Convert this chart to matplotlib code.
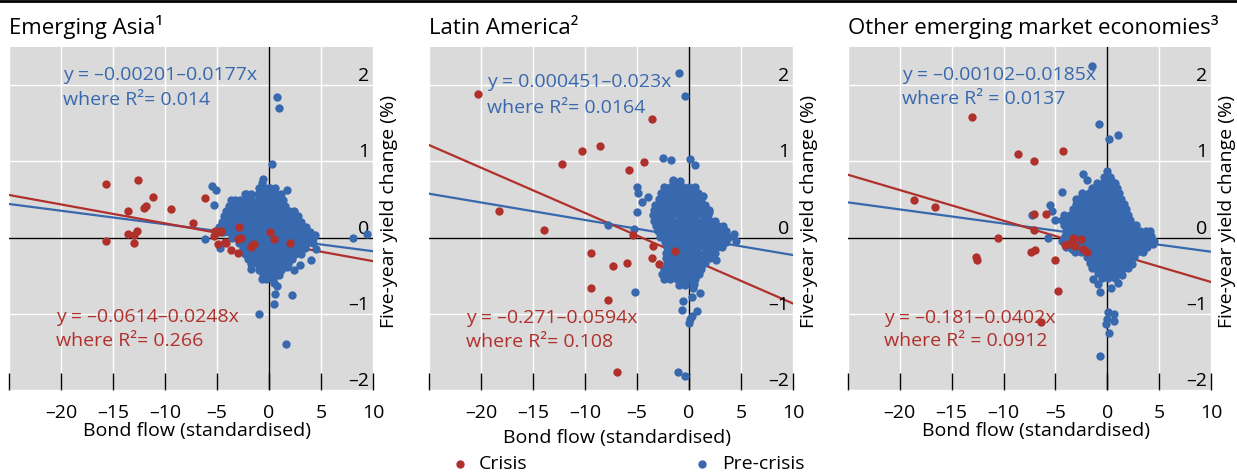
import numpy as np
import matplotlib
matplotlib.use("Agg")
import matplotlib.pyplot as plt
import matplotlib.transforms as mtransforms
from matplotlib.lines import Line2D

plt.rcParams['font.family'] = ['Open Sans', 'DejaVu Sans']

RED = '#b0302c'
BLUE = '#3868ae'
BG = '#dadada'

titles = ['Emerging Asia¹', 'Latin America²', 'Other emerging market economies³']

# regression lines (intercept, slope) as printed on the chart
pre_coef = [(-0.00201, -0.0177), (0.000451, -0.023), (-0.00102, -0.0185)]
crisis_coef = [(-0.0614, -0.0248), (-0.271, -0.0594), (-0.181, -0.0402)]
pre_text = [('y = –0.00201–0.0177x', 'where R²= 0.014'),
            ('y = 0.000451–0.023x', 'where R²= 0.0164'),
            ('y = –0.00102–0.0185x', 'where R² = 0.0137')]
crisis_text = [('y = –0.0614–0.0248x', 'where R²= 0.266'),
               ('y = –0.271–0.0594x', 'where R²= 0.108'),
               ('y = –0.181–0.0402x', 'where R² = 0.0912')]

# --- Emerging Asia ---
asia_crisis_x = [-15.7, -12.6, -11.2, -11.8, -12.0, -13.6, -9.4, -6.2, -7.3, -2.9, -13.6, -12.7,
                 -13.0, -4.6, -15.7, -13.0, -4.9, -4.1, -3.7, -3.0, -3.0, -1.4, 0.5, 2.0, -5.3,
                 -5.2, -4.7, -4.2, -2.7, -1.6, -1.7, 0.1]
asia_crisis_y = [0.70, 0.76, 0.53, 0.41, 0.39, 0.35, 0.37, 0.52, 0.19, 0.14, 0.05, 0.08,
                 0.04, 0.09, -0.05, -0.07, -0.09, -0.07, -0.16, -0.20, -0.02, -0.09, -0.02, -0.07, 0.02,
                 0.09, 0.07, -0.06, -0.01, -0.10, -0.12, 0.07]
asia_pre_x = [0.77, 1.0, 0.3, -0.6, -5.5, -5.1, -5.3, -3.7, -2.2, 1.7, 2.4, 8.1, 9.4, -6.2, -4.7,
              4.4, 4.5, 4.0, 3.0, 2.4, 1.7, -1.7, -0.7, 0.5, 0.8, 0.6, 2.2, 0.5, -1.0, 1.6, 0.0, 0.6, 1.1]
asia_pre_y = [1.85, 1.70, 0.96, 0.77, 0.67, 0.62, 0.43, 0.49, 0.57, 0.62, 0.33, -0.01, 0.05, -0.02, -0.14,
              0.03, -0.15, -0.29, -0.36, -0.43, -0.39, -0.41, -0.54, -0.59, -0.63, -0.74, -0.76, -0.87, -1.0, -1.40,
              0.65, 0.56, 0.46]
# dense core of the pre-crisis cloud, row by row: (y, [x, ...])
asia_pre_core = [
    (0.72, [-0.7]),
    (0.65, [-1.0, -0.4, 0.1, 0.6]),
    (0.57, [-2.3, -1.7, -1.1, -0.5, 0.1, 0.7, 1.2]),
    (0.49, [-3.3, -2.8, -2.2, -1.6, -1.0, -0.4, 0.2, 0.8, 1.3]),
    (0.42, [-3.8, -3.2, -2.6, -2.0, -1.4, -0.8, -0.2, 0.4, 1.0, 1.5]),
    (0.35, [-4.1, -3.5, -2.9, -2.3, -1.7, -1.1, -0.5, 0.1, 0.7, 1.3, 1.9, 2.4]),
    (0.28, [-4.3, -3.7, -3.1, -2.5, -1.9, -1.3, -0.7, -0.1, 0.5, 1.1, 1.7, 2.3, 2.8]),
    (0.21, [-4.5, -3.9, -3.3, -2.7, -2.1, -1.5, -0.9, -0.3, 0.3, 0.9, 1.5, 2.1, 2.7, 3.1]),
    (0.14, [-4.8, -4.2, -3.6, -3.0, -2.4, -1.8, -1.2, -0.6, 0.0, 0.6, 1.2, 1.8, 2.4, 3.0, 3.6]),
    (0.07, [-4.4, -3.8, -3.2, -2.6, -2.0, -1.4, -0.8, -0.2, 0.4, 1.0, 1.6, 2.2, 2.8, 3.4, 3.9]),
    (0.00, [-3.6, -3.0, -2.4, -1.8, -1.2, -0.6, 0.0, 0.6, 1.2, 1.8, 2.4, 3.0, 3.6, 4.2]),
    (-0.07, [-2.9, -2.3, -1.7, -1.1, -0.5, 0.1, 0.7, 1.3, 1.9, 2.5, 3.1, 3.7, 4.2]),
    (-0.14, [-2.5, -1.9, -1.3, -0.7, -0.1, 0.5, 1.1, 1.7, 2.3, 2.9, 3.5]),
    (-0.21, [-2.3, -1.7, -1.1, -0.5, 0.1, 0.7, 1.3, 1.9, 2.5, 3.1]),
    (-0.28, [-2.0, -1.4, -0.8, -0.2, 0.4, 1.0, 1.6, 2.2]),
    (-0.35, [-1.7, -1.1, -0.5, 0.1, 0.7, 1.3, 1.8]),
    (-0.42, [-1.0, -0.4, 0.2, 0.8, 1.2]),
    (-0.49, [-0.6, 0.0, 0.6, 1.0]),
    (-0.55, [-0.3, 0.4]),
]

# --- Latin America ---
latam_crisis_x = [-20.25, -3.6, -8.6, -10.3, -12.2, -4.3, -5.75, -18.25, -13.9, -5.4, -3.5, -9.4,
                  -3.6, -2.9, -6.0, -7.3, -1.35, -9.4, -7.8, -6.9]
latam_crisis_y = [1.88, 1.56, 1.20, 1.13, 0.97, 0.99, 0.89, 0.35, 0.10, 0.03, -0.11, -0.20,
                  -0.27, -0.35, -0.34, -0.37, -0.17, -0.66, -0.82, -1.77]
latam_pre_x = [-1.0, -0.4, -2.5, -1.7, 0.1, 0.6, -1.5, -5.0, -4.9, -3.9, -4.5, -5.0, -7.8, -5.3, 1.3, 1.9,
               4.3, 4.5, 2.6, -5.2, -0.6, -0.7, 0.3, 1.06, 0.74, 0.42, 0.3, 0.1, 0.0, -1.1, -0.4, 0.5]
latam_pre_y = [2.16, 1.86, 1.04, 1.02, 1.03, 0.95, 0.76, 0.66, 0.58, 0.53, 0.46, 0.34, 0.16, 0.11, 0.54, 0.34,
               0.05, -0.04, -0.29, -0.72, -0.83, -0.95, -0.78, -0.73, -0.96, -0.66, -1.03, -1.07, -1.12, -1.77, -1.81, -0.61]
latam_pre_core = [
    (0.74, [-1.5, -0.9]),
    (0.66, [-2.4, -1.8, -1.2, -0.6, 0.0, 0.6]),
    (0.58, [-2.7, -2.1, -1.5, -0.9, -0.3, 0.3, 0.9]),
    (0.50, [-2.9, -2.3, -1.7, -1.1, -0.5, 0.1, 0.7, 1.2]),
    (0.43, [-3.3, -2.7, -2.1, -1.5, -0.9, -0.3, 0.3, 0.9, 1.5]),
    (0.36, [-3.4, -2.8, -2.2, -1.6, -1.0, -0.4, 0.2, 0.8, 1.4, 1.9]),
    (0.29, [-3.5, -2.9, -2.3, -1.7, -1.1, -0.5, 0.1, 0.7, 1.3, 1.8]),
    (0.22, [-3.4, -2.8, -2.2, -1.6, -1.0, -0.4, 0.2, 0.8, 1.4, 2.0, 2.5]),
    (0.15, [-3.2, -2.6, -2.0, -1.4, -0.8, -0.2, 0.4, 1.0, 1.6, 2.2, 2.8, 3.3]),
    (0.08, [-3.0, -2.4, -1.8, -1.2, -0.6, 0.0, 0.6, 1.2, 1.8, 2.4, 3.0, 3.6]),
    (0.01, [-2.8, -2.2, -1.6, -1.0, -0.4, 0.2, 0.8, 1.4, 2.0, 2.6, 3.2, 3.8]),
    (-0.06, [-2.3, -1.7, -1.1, -0.5, 0.1, 0.7, 1.3, 1.9, 2.5, 3.1, 3.6]),
    (-0.13, [-2.1, -1.5, -0.9, -0.3, 0.3, 0.9, 1.5, 2.1, 2.7, 3.2]),
    (-0.20, [-2.2, -1.6, -1.0, -0.4, 0.2, 0.8, 1.4, 2.0, 2.5]),
    (-0.27, [-2.2, -1.6, -1.0, -0.4, 0.2, 0.8, 1.4, 2.0]),
    (-0.34, [-2.1, -1.5, -0.9, -0.3, 0.3, 0.9, 1.5]),
    (-0.41, [-2.4, -1.8, -1.2, -0.6, 0.0, 0.6, 1.2]),
    (-0.48, [-2.6, -2.0, -1.4, -0.8, -0.2, 0.4, 1.0]),
    (-0.55, [-2.4, -1.8, -1.2, -0.6, 0.0, 0.6]),
    (-0.62, [-1.0, -0.4, 0.4]),
]

# --- Other emerging market economies ---
other_crisis_x = [-13.0, -8.6, -7.05, -4.3, -18.6, -16.6, -7.1, -5.9, -7.1, -10.5, -12.7, -12.6,
                  -7.4, -6.95, -5.0, -4.8, -6.4, -3.3, -4.1, -3.4, -2.3, -2.0, -2.5, -3.1, -3.75]
other_crisis_y = [1.58, 1.10, 1.0, 1.13, 0.49, 0.40, 0.31, 0.31, 0.10, 0.0, -0.26, -0.30,
                  -0.19, -0.16, -0.30, -0.70, -1.11, 0.0, -0.10, -0.09, -0.15, -0.19, -0.02, -0.11, -0.09]
other_pre_x = [-1.5, -0.8, 0.16, 1.0, -0.06, -2.3, -2.0, 0.4, -4.4, -5.5, -5.3, -3.0, -7.3, -5.0, -1.35,
               4.1, 4.4, -5.7, -3.4, 2.35, -1.4, -0.87, -0.7, 0.4, 1.06, 1.44, 0.1, -0.06, 0.64, 0.67,
               -0.12, 0.16, -0.7]
other_pre_y = [2.25, 1.49, 1.29, 1.35, 0.87, 0.83, 0.76, 0.76, 0.60, 0.43, 0.35, 0.50, 0.29, 0.23, 0.52,
               0.08, -0.09, -0.01, -0.15, -0.35, -0.54, -0.61, -0.72, -0.66, -0.59, -0.49, -0.98, -1.07, -1.0, -1.10,
               -1.14, -1.25, -1.55]
other_pre_core = [
    (0.80, [-0.3, 0.3]),
    (0.72, [-1.0, -0.4, 0.2, 0.7]),
    (0.65, [-1.5, -0.9, -0.3, 0.3, 0.9]),
    (0.58, [-2.4, -1.8, -1.2, -0.6, 0.0, 0.6, 1.1]),
    (0.51, [-2.7, -2.1, -1.5, -0.9, -0.3, 0.3, 0.9, 1.3]),
    (0.44, [-3.0, -2.4, -1.8, -1.2, -0.6, 0.0, 0.6, 1.2, 1.6]),
    (0.37, [-3.3, -2.7, -2.1, -1.5, -0.9, -0.3, 0.3, 0.9, 1.5, 1.8]),
    (0.30, [-4.2, -3.6, -3.0, -2.4, -1.8, -1.2, -0.6, 0.0, 0.6, 1.2, 1.8, 2.0]),
    (0.23, [-4.4, -3.8, -3.2, -2.6, -2.0, -1.4, -0.8, -0.2, 0.4, 1.0, 1.6, 2.2]),
    (0.16, [-4.2, -3.6, -3.0, -2.4, -1.8, -1.2, -0.6, 0.0, 0.6, 1.2, 1.8, 2.4, 2.8]),
    (0.09, [-4.0, -3.4, -2.8, -2.2, -1.6, -1.0, -0.4, 0.2, 0.8, 1.4, 2.0, 2.6, 3.2, 3.7]),
    (0.02, [-4.1, -3.5, -2.9, -2.3, -1.7, -1.1, -0.5, 0.1, 0.7, 1.3, 1.9, 2.5, 3.1, 3.7, 4.2]),
    (-0.05, [-4.4, -3.8, -3.2, -2.6, -2.0, -1.4, -0.8, -0.2, 0.4, 1.0, 1.6, 2.2, 2.8, 3.4, 4.0, 4.5]),
    (-0.12, [-4.0, -3.4, -2.8, -2.2, -1.6, -1.0, -0.4, 0.2, 0.8, 1.4, 2.0, 2.6, 3.2, 3.8]),
    (-0.19, [-3.1, -2.5, -1.9, -1.3, -0.7, -0.1, 0.5, 1.1, 1.7, 2.3, 2.9, 3.4]),
    (-0.26, [-2.0, -1.4, -0.8, -0.2, 0.4, 1.0, 1.6, 2.2, 2.6]),
    (-0.33, [-1.7, -1.1, -0.5, 0.1, 0.7, 1.3, 1.9]),
    (-0.40, [-1.5, -0.9, -0.3, 0.3, 0.9, 1.5, 2.0]),
    (-0.47, [-0.9, -0.3, 0.3, 0.9, 1.3]),
    (-0.53, [-0.5, 0.1, 0.7]),
]

x_ticks = [-25, -20, -15, -10, -5, 0, 5, 10]
x_tick_labels = ['', '–20', '–15', '–10', '–5', '0', '5', '10']
y_ticks = [-2, -1, 0, 1, 2]
y_tick_labels = ['–2', '–1', '0', '1', '2']
legend_labels = ['Crisis', 'Pre-crisis']

crisis_x = [asia_crisis_x, latam_crisis_x, other_crisis_x]
crisis_y = [asia_crisis_y, latam_crisis_y, other_crisis_y]
pre_x = [asia_pre_x, latam_pre_x, other_pre_x]
pre_y = [asia_pre_y, latam_pre_y, other_pre_y]
pre_core = [asia_pre_core, latam_pre_core, other_pre_core]


def flatten_core(core):
    xs, ys = [], []
    for yv, row in core:
        xs += row
        ys += [yv] * len(row)
    return xs, ys


W, H = 1237, 473
fig = plt.figure(figsize=(W / 100, H / 100), dpi=100)

# axes boxes in pixels: left, right (top 47, bottom 390)
boxes = [(9, 373), (429, 793), (848, 1211)]
top_px, bot_px = 47, 390
# text anchor positions in pixels
blue_txt = [(63, 75, 100), (487, 82, 108), (902, 75, 99)]
red_txt = [(56, 317, 341), (466, 318, 342), (884, 318, 341)]
xlabel_pos = [(197, 431), (617, 438), (1036, 431)]

fs = 14
for i in range(3):
    l, r = boxes[i]
    ax = fig.add_axes([l / W, 1 - bot_px / H, (r - l) / W, (bot_px - top_px) / H])
    ax.set_facecolor(BG)
    for s in ax.spines.values():
        s.set_visible(False)
    ax.set_xlim(-25, 10)
    ax.set_ylim(-2, 2.5)
    ax.set_xticks(x_ticks, x_tick_labels)
    ax.set_yticks(y_ticks)
    ax.tick_params(axis='x', direction='in', length=12, width=1, pad=10, labelsize=fs)
    ax.tick_params(axis='y', left=False, right=False, labelleft=False)
    ax.grid(color='white', lw=1)
    ax.set_axisbelow(True)
    ax.axhline(0, color='black', lw=1, zorder=1.5)
    ax.axvline(0, color='black', lw=1, zorder=1.5)

    # right-hand tick labels inside the plot area
    trans = mtransforms.blended_transform_factory(ax.transAxes, ax.transData)
    for v, lab in zip(y_ticks, y_tick_labels):
        ax.text(0.99, v, lab, transform=trans, ha='right', va='bottom', fontsize=fs)

    xl = np.array([-25, 10])
    a, b = pre_coef[i]
    ax.plot(xl, a + b * xl, color=BLUE, lw=1.6, zorder=2)
    a, b = crisis_coef[i]
    ax.plot(xl, a + b * xl, color=RED, lw=1.6, zorder=2)

    cx, cy = flatten_core(pre_core[i])
    ax.scatter(cx + pre_x[i], cy + pre_y[i], s=36, color=BLUE, linewidths=0, zorder=3)
    ax.scatter(crisis_x[i], crisis_y[i], s=36, color=RED, linewidths=0, zorder=4)

    fig.text(l / W, 1 - 34 / H, titles[i], fontsize=16, ha='left', va='baseline')
    fig.text((r + 16) / W, 1 - 212 / H, 'Five-year yield change (%)', rotation=90,
             fontsize=fs, ha='center', va='center')
    xx, yy = xlabel_pos[i]
    fig.text(xx / W, 1 - yy / H, 'Bond flow (standardised)', fontsize=fs, ha='center', va='center')

    bx, b1, b2 = blue_txt[i]
    fig.text(bx / W, 1 - b1 / H, pre_text[i][0], color=BLUE, fontsize=fs, ha='left', va='center')
    fig.text(bx / W, 1 - b2 / H, pre_text[i][1], color=BLUE, fontsize=fs, ha='left', va='center')
    rx, r1, r2 = red_txt[i]
    fig.text(rx / W, 1 - r1 / H, crisis_text[i][0], color=RED, fontsize=fs, ha='left', va='center')
    fig.text(rx / W, 1 - r2 / H, crisis_text[i][1], color=RED, fontsize=fs, ha='left', va='center')

# legend below the middle panel
leg_pos = [(460, 479), (702, 722)]
for (dot_x, txt_x), lab, col in zip(leg_pos, legend_labels, [RED, BLUE]):
    fig.add_artist(Line2D([dot_x / W], [1 - 464 / H], ls='', marker='o', ms=5, color=col,
                          transform=fig.transFigure))
    fig.text(txt_x / W, 1 - 464 / H, lab, fontsize=fs, ha='left', va='center')

fig.add_artist(Line2D([0, 1], [1 - 1 / H, 1 - 1 / H], color='black', lw=2, transform=fig.transFigure))

fig.savefig('out.png', dpi=100)
